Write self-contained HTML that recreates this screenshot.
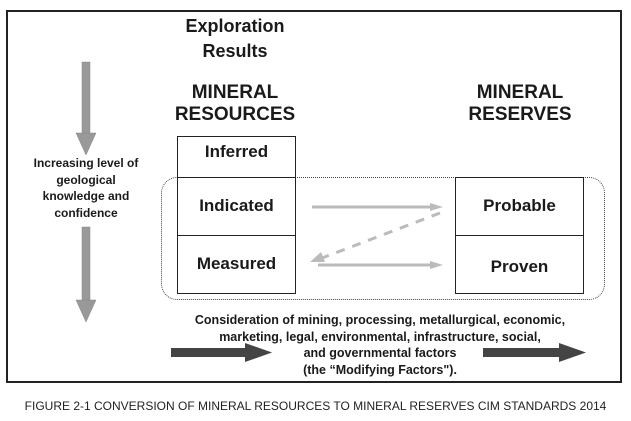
<!DOCTYPE html><html><head><style>
body{margin:0;background:#fff;width:631px;height:421px;position:relative;overflow:hidden;font-family:"Liberation Sans",Arial,sans-serif;}
.t{position:absolute;font-weight:bold;color:#1a1a1a;white-space:nowrap;text-align:center}
.b{position:absolute;border:1.5px solid #222;box-sizing:border-box}
</style></head><body>
<div class="b" style="left:6px;top:10px;width:616px;height:373px;border-width:2px"></div>
<div class="t" style="left:150px;top:14px;width:170px;font-size:18px;line-height:25px">Exploration<br>Results</div>
<div class="t" style="left:150px;top:82px;width:170px;font-size:19px;line-height:22px">MINERAL<br>RESOURCES</div>
<div class="t" style="left:440px;top:82px;width:160px;font-size:19px;line-height:22px">MINERAL<br>RESERVES</div>
<div style="position:absolute;left:161px;top:177px;width:444px;height:123px;border:1.2px dotted #444;border-radius:16px;box-sizing:border-box"></div>
<div class="b" style="left:177px;top:136px;width:119px;height:42px"></div>
<div class="b" style="left:177px;top:177px;width:119px;height:59px"></div>
<div class="b" style="left:177px;top:235px;width:119px;height:59px"></div>
<div class="b" style="left:455px;top:177px;width:129px;height:59px"></div>
<div class="b" style="left:455px;top:235px;width:129px;height:59px"></div>
<div class="t" style="left:177px;top:142px;width:119px;font-size:17px">Inferred</div>
<div class="t" style="left:177px;top:196px;width:119px;font-size:17px">Indicated</div>
<div class="t" style="left:177px;top:254px;width:119px;font-size:17px">Measured</div>
<div class="t" style="left:455px;top:196px;width:129px;font-size:17px">Probable</div>
<div class="t" style="left:455px;top:257px;width:129px;font-size:17px">Proven</div>
<div class="t" style="left:6px;top:155px;width:160px;font-size:12px;line-height:16.5px">Increasing level of<br>geological<br>knowledge and<br>confidence</div>
<div class="t" style="left:130px;top:312px;width:500px;font-size:12.5px;line-height:16.5px">Consideration of mining, processing, metallurgical, economic,<br>marketing, legal, environmental, infrastructure, social,<br>and governmental factors<br>(the “Modifying Factors").</div>
<div style="position:absolute;left:0;top:399px;width:631px;text-align:center;font-size:12px;color:#222;white-space:nowrap">FIGURE 2-1 CONVERSION OF MINERAL RESOURCES TO MINERAL RESERVES CIM STANDARDS 2014</div>
<svg width="631" height="421" style="position:absolute;left:0;top:0">
<g fill="#999" stroke="#888" stroke-width="0.5">
<rect x="82" y="62" width="8" height="72"/><polygon points="76,133 96,133 86,155"/>
<rect x="82" y="227" width="8" height="75"/><polygon points="76,300 96,300 86,322"/>
</g>
<g fill="#444">
<rect x="171" y="348" width="76" height="9"/><polygon points="245,343 272,352.5 245,362"/>
<rect x="483" y="348" width="78" height="9"/><polygon points="559,343 586,352.5 559,362"/>
</g>
<g stroke="#bbb" stroke-width="3" fill="#bbb">
<line x1="312" y1="207" x2="432" y2="207"/><polygon points="430,203 443,207 430,211" stroke="none"/>
<line x1="318" y1="265" x2="432" y2="265"/><polygon points="430,261 443,265 430,269" stroke="none"/>
<line x1="440" y1="213" x2="322" y2="258" stroke-dasharray="9,8"/><polygon points="310,262 321,252 325,262" stroke="none"/>
</g>
</svg>
</body></html>
